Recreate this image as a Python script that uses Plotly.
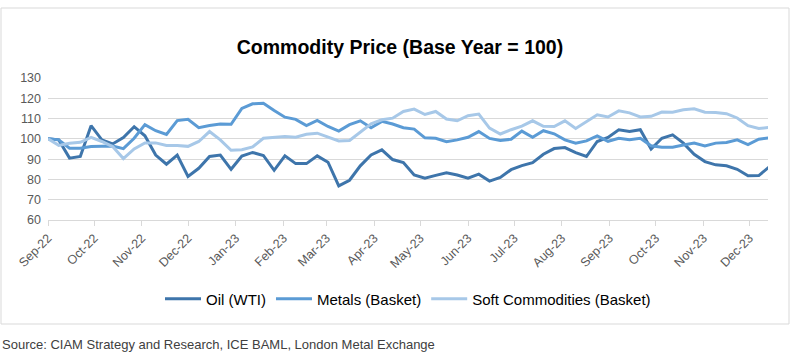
import pandas as pd
import plotly.graph_objects as go

# Weekly observations, Sep 2022 - Dec 2023
dates = pd.date_range("2022-09-01", periods=68, freq="7D")

oil_wti = [100, 99.5, 90.5, 91.3, 106.5, 99.5, 97.5, 100.7, 106, 101.5,
           92, 87.5, 92, 81.5, 85.5, 91.3, 92, 85, 91.5, 93.3,
           91.8, 84.5, 91.6, 87.8, 87.8, 91.6, 88.5, 76.8, 79.6, 86.7,
           92.1, 94.6, 89.8, 88.3, 82.2, 80.6, 82, 83.3, 82.2, 80.6,
           82.6, 79.2, 81, 84.8, 86.8, 88.3, 92.4, 95.2, 95.7, 93.2,
           91.3, 98.7, 100.7, 104.5, 103.6, 104.5, 95, 100.3, 102, 97.9,
           92.4, 88.8, 87.2, 86.7, 85, 81.8, 81.9, 86.3]

metals_basket = [100, 99.5, 95.4, 95.4, 96.2, 96.5, 96.5, 95.2, 100.3, 107,
                 104, 102.2, 109, 109.6, 105.5, 106.6, 107.3, 107.2, 115, 117.3,
                 117.5, 114, 110.7, 109.6, 106.5, 109.1, 106.1, 103.8, 107, 108.9,
                 105.5, 108.6, 107.3, 105.5, 104.8, 100.5, 100.3, 98.6, 99.5, 100.8,
                 103.6, 100.2, 99.2, 99.8, 103.8, 100.8, 104, 102.5, 99.5, 97.9,
                 99, 101.5, 98.8, 100.3, 99.6, 100.3, 96.6, 95.9, 95.9, 97,
                 97.9, 96.5, 97.9, 98.2, 99.5, 97.2, 99.8, 100.5]

soft_basket = [100, 96.8, 97.8, 98.3, 100.7, 98.7, 96.2, 90.3, 95, 98,
               98, 96.7, 96.7, 96.3, 98.7, 103.6, 99.5, 94.4, 94.6, 96,
               100.3, 100.9, 101.2, 100.8, 102.3, 102.8, 100.8, 99, 99.2, 103.1,
               107.4, 109.4, 110.2, 113.5, 114.7, 112, 113.5, 109.8, 108.9, 111.4,
               112.2, 105.3, 102.4, 104.5, 106.3, 108.9, 106.2, 106.1, 108.9, 105.1,
               108.6, 111.9, 110.8, 113.8, 112.8, 110.8, 111.1, 113.2, 113.1, 114.3,
               114.8, 113.1, 113, 112.4, 110.3, 106.5, 105.1, 105.7]

series_names = ["Oil (WTI)", "Metals (Basket)", "Soft Commodities (Basket)"]
series_colors = ["#3e75ab", "#5b9bd5", "#a7c8e8"]
title_text = "Commodity Price (Base Year = 100)"
source_text = "Source: CIAM Strategy and Research, ICE BAML, London Metal Exchange"

fig = go.Figure()
for name, vals, col in zip(series_names, [oil_wti, metals_basket, soft_basket], series_colors):
    fig.add_trace(go.Scatter(x=dates, y=vals, mode="lines", name=name,
                             line=dict(color=col, width=3)))

FONT = "Liberation Sans, Arial, sans-serif"
W, H = 800, 355
L, R, T, B = 48, 32, 78, 135
pw, ph = W - L - R, H - T - B

def px_x(p):
    return (p - L) / pw

def px_y(p):
    return (H - B - p) / ph

fig.update_layout(
    width=W, height=H,
    margin=dict(l=L, r=R, t=T, b=B),
    paper_bgcolor="white", plot_bgcolor="white",
    font=dict(family=FONT, size=12, color="#595959"),
    title=dict(text="<b>" + title_text + "</b>", x=0.5, xanchor="center",
               y=1 - 47 / H, yanchor="middle",
               font=dict(family=FONT, size=19.5, color="#000000")),
    showlegend=True,
    legend=dict(orientation="h", x=0.5, xanchor="center", y=px_y(299), yanchor="middle",
                font=dict(family=FONT, size=15, color="#000000"),
                bgcolor="rgba(0,0,0,0)", itemwidth=36, tracegroupgap=0),
    xaxis=dict(type="date", range=["2022-09-01", "2023-12-13"],
               tick0="2022-09-01", dtick="M1", tickformat="%b-%y",
               tickangle=-45, showgrid=False, showline=True,
               linecolor="#d9d9d9", linewidth=1, ticks="outside",
               ticklen=5, tickcolor="#d9d9d9",
               tickfont=dict(family=FONT, size=12.5, color="#595959"),
               zeroline=False),
    yaxis=dict(range=[60, 130], dtick=10, tick0=60, showgrid=True,
               gridcolor="#d9d9d9", gridwidth=1, showline=False,
               zeroline=False, ticks="", ticklabelstandoff=6,
               tickfont=dict(family=FONT, size=12.5, color="#595959")),
)

fig.add_shape(type="rect", xref="paper", yref="paper",
              x0=px_x(1), x1=px_x(789), y0=px_y(324), y1=px_y(8),
              line=dict(color="#d9d9d9", width=1), fillcolor="rgba(0,0,0,0)",
              layer="below")

fig.add_annotation(text=source_text, xref="paper", yref="paper",
                   x=px_x(0), xanchor="left", y=px_y(344), yanchor="middle",
                   showarrow=False,
                   font=dict(family="Liberation Sans Narrow, Liberation Sans, Arial", size=13,
                             color="#404040"))

fig.write_html("out.html",
               config={"displayModeBar": False},
               post_script="document.body.style.margin='0';document.body.style.padding='0';")
